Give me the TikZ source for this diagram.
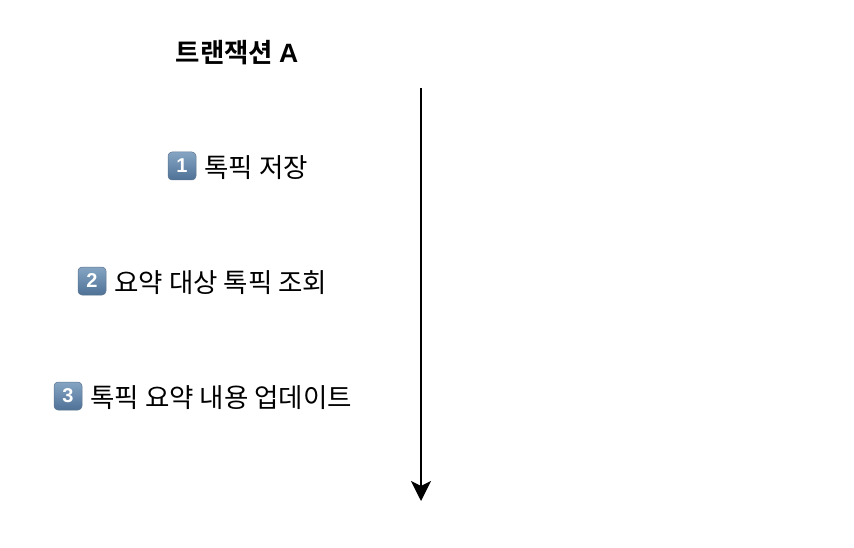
\documentclass[tikz,border=0pt]{standalone}
\usepackage{fontspec}
\usepackage{tikz}
\usetikzlibrary{arrows.meta, positioning}
\setmainfont{Noto Sans CJK KR}[BoldFont={Noto Sans CJK KR Bold}]
\newfontfamily\latinfont{Liberation Sans}
\tikzset{
	keycap/.style={rounded corners=4pt, minimum size=28pt, inner sep=0pt, top color=keytop, bottom color=keybot, draw=keybot!70!gray, line width=0.5pt, text=white, font=\fontsize{20}{20}\latinfont\bfseries},
	step label/.style={inner sep=0pt, yshift=-2pt, font=\fontsize{26.5}{26.5}\selectfont},
	title label/.style={inner sep=0pt, font=\fontsize{26.5}{26.5}\selectfont\bfseries}
}
\definecolor{keytop}{HTML}{86A5C4}
\definecolor{keybot}{HTML}{4E7196}

\begin{document}
\begin{tikzpicture}[x=1pt, y=-1pt]
	\useasboundingbox (0,0) rectangle (854,548);
	
	\node[title label] (title) at (237,53) {트랜잭션 {\latinfont A}};
	
	\node[keycap] (key1) at (182,166) {1};
	\node[keycap] (key2) at (92,281) {2};
	\node[keycap] (key3) at (68,396) {3};
	
	\node[step label, right=8pt of key1] (save) {톡픽 저장};
	\node[step label, right=8pt of key2] (select) {요약 대상 톡픽 조회};
	\node[step label, right=8pt of key3] (update) {톡픽 요약 내용 업데이트};
	
	\coordinate (start) at (421,88);
	\coordinate (end) at (421,501);
	\draw[-{Stealth[length=20pt, width=20pt, inset=5pt]}, line width=2pt] (start) -- (end);
\end{tikzpicture}
\end{document}
